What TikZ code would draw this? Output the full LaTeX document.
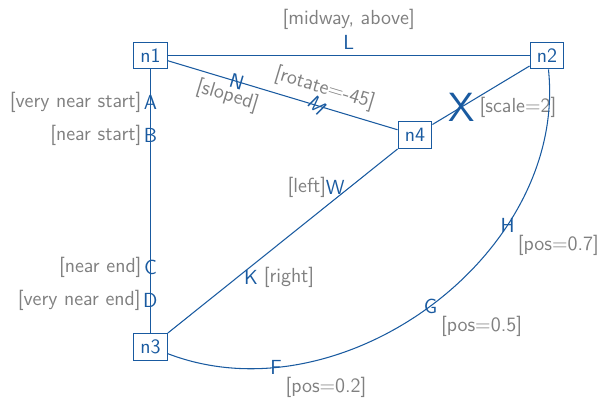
\documentclass[tikz,border=0pt]{standalone}
\usetikzlibrary{positioning}
\definecolor{edgeblue}{RGB}{25,90,160}
\definecolor{notegray}{RGB}{128,128,128}

\begin{document}
\begin{tikzpicture}[x=0.02cm, y=0.02cm,
    font=\sffamily\fontsize{11.6}{13.5}\selectfont,
    box/.style={draw=edgeblue, text=edgeblue, line width=0.6pt, minimum width=19.3pt, minimum height=15.3pt, inner sep=0pt},
    link/.style={draw=edgeblue, line width=0.6pt},
    lbl/.style={text=edgeblue},
    note/.style={text=notegray},
    every label/.style={note, inner sep=0pt},
    label distance=-2.5pt]
    \useasboundingbox (0,0) rectangle (599,397);

    % the four boxes
    \node[box] (n1) at (150.4,341.5) {n1};
    \node[box] (n2) at (547,341.5)   {n2};
    \node[box] (n3) at (150.4,50)    {n3};
    \node[box] (n4) at (415,262)     {n4};

    % straight edges
    \draw[link] (n1) -- node[lbl, midway, above, label={[label distance=-1pt]above:{[midway, above]}}] (l) {L} (n2);
    \draw[link] (n1) -- node[lbl, very near start, label={left:{[very near start]}}] (a) {A}
                        node[lbl, near start, label={left:{[near start]}}] (b) {B}
                        node[lbl, near end, label={left:{[near end]}}] (c) {C}
                        node[lbl, very near end, label={left:{[very near end]}}] (d) {D} (n3);
    \draw[link] (n1) -- node[lbl, pos=0.3, sloped] (nn) {N}
                        node[note, pos=0.28, sloped, below] (nnote) {[sloped]}
                        node[lbl, pos=0.65, rotate=-45] (m) {M}
                        node[note, pos=0.66, sloped, above, yshift=1pt] (mnote) {[rotate=-45]} (n4);
    \draw[link] (n4) -- node[lbl, pos=0.3, inner sep=1pt, scale=2] (xm) {X} (n2);
    \node[note, inner sep=0pt, right=0pt of xm] (xnote) {[scale=2]};
    \draw[link] (n4) -- node[lbl, pos=0.21, left=-1pt, label={[label distance=-4pt]left:{[left]}}] (w) {W}
                        node[lbl, pos=0.7, right=0.5pt, label={[label distance=-0.5pt]right:{[right]}}] (k) {K} (n3);

    % curved edge
    \draw[link] (n3) to[out=-21, in=-84]
        node[lbl, pos=0.2, label={below right:{[pos=0.2]}}] (f) {F}
        node[lbl, pos=0.5, label={below right:{[pos=0.5]}}] (g) {G}
        node[lbl, pos=0.7, label={[label distance=-3pt]below right:{[pos=0.7]}}] (h) {H} (n2);
\end{tikzpicture}
\end{document}
